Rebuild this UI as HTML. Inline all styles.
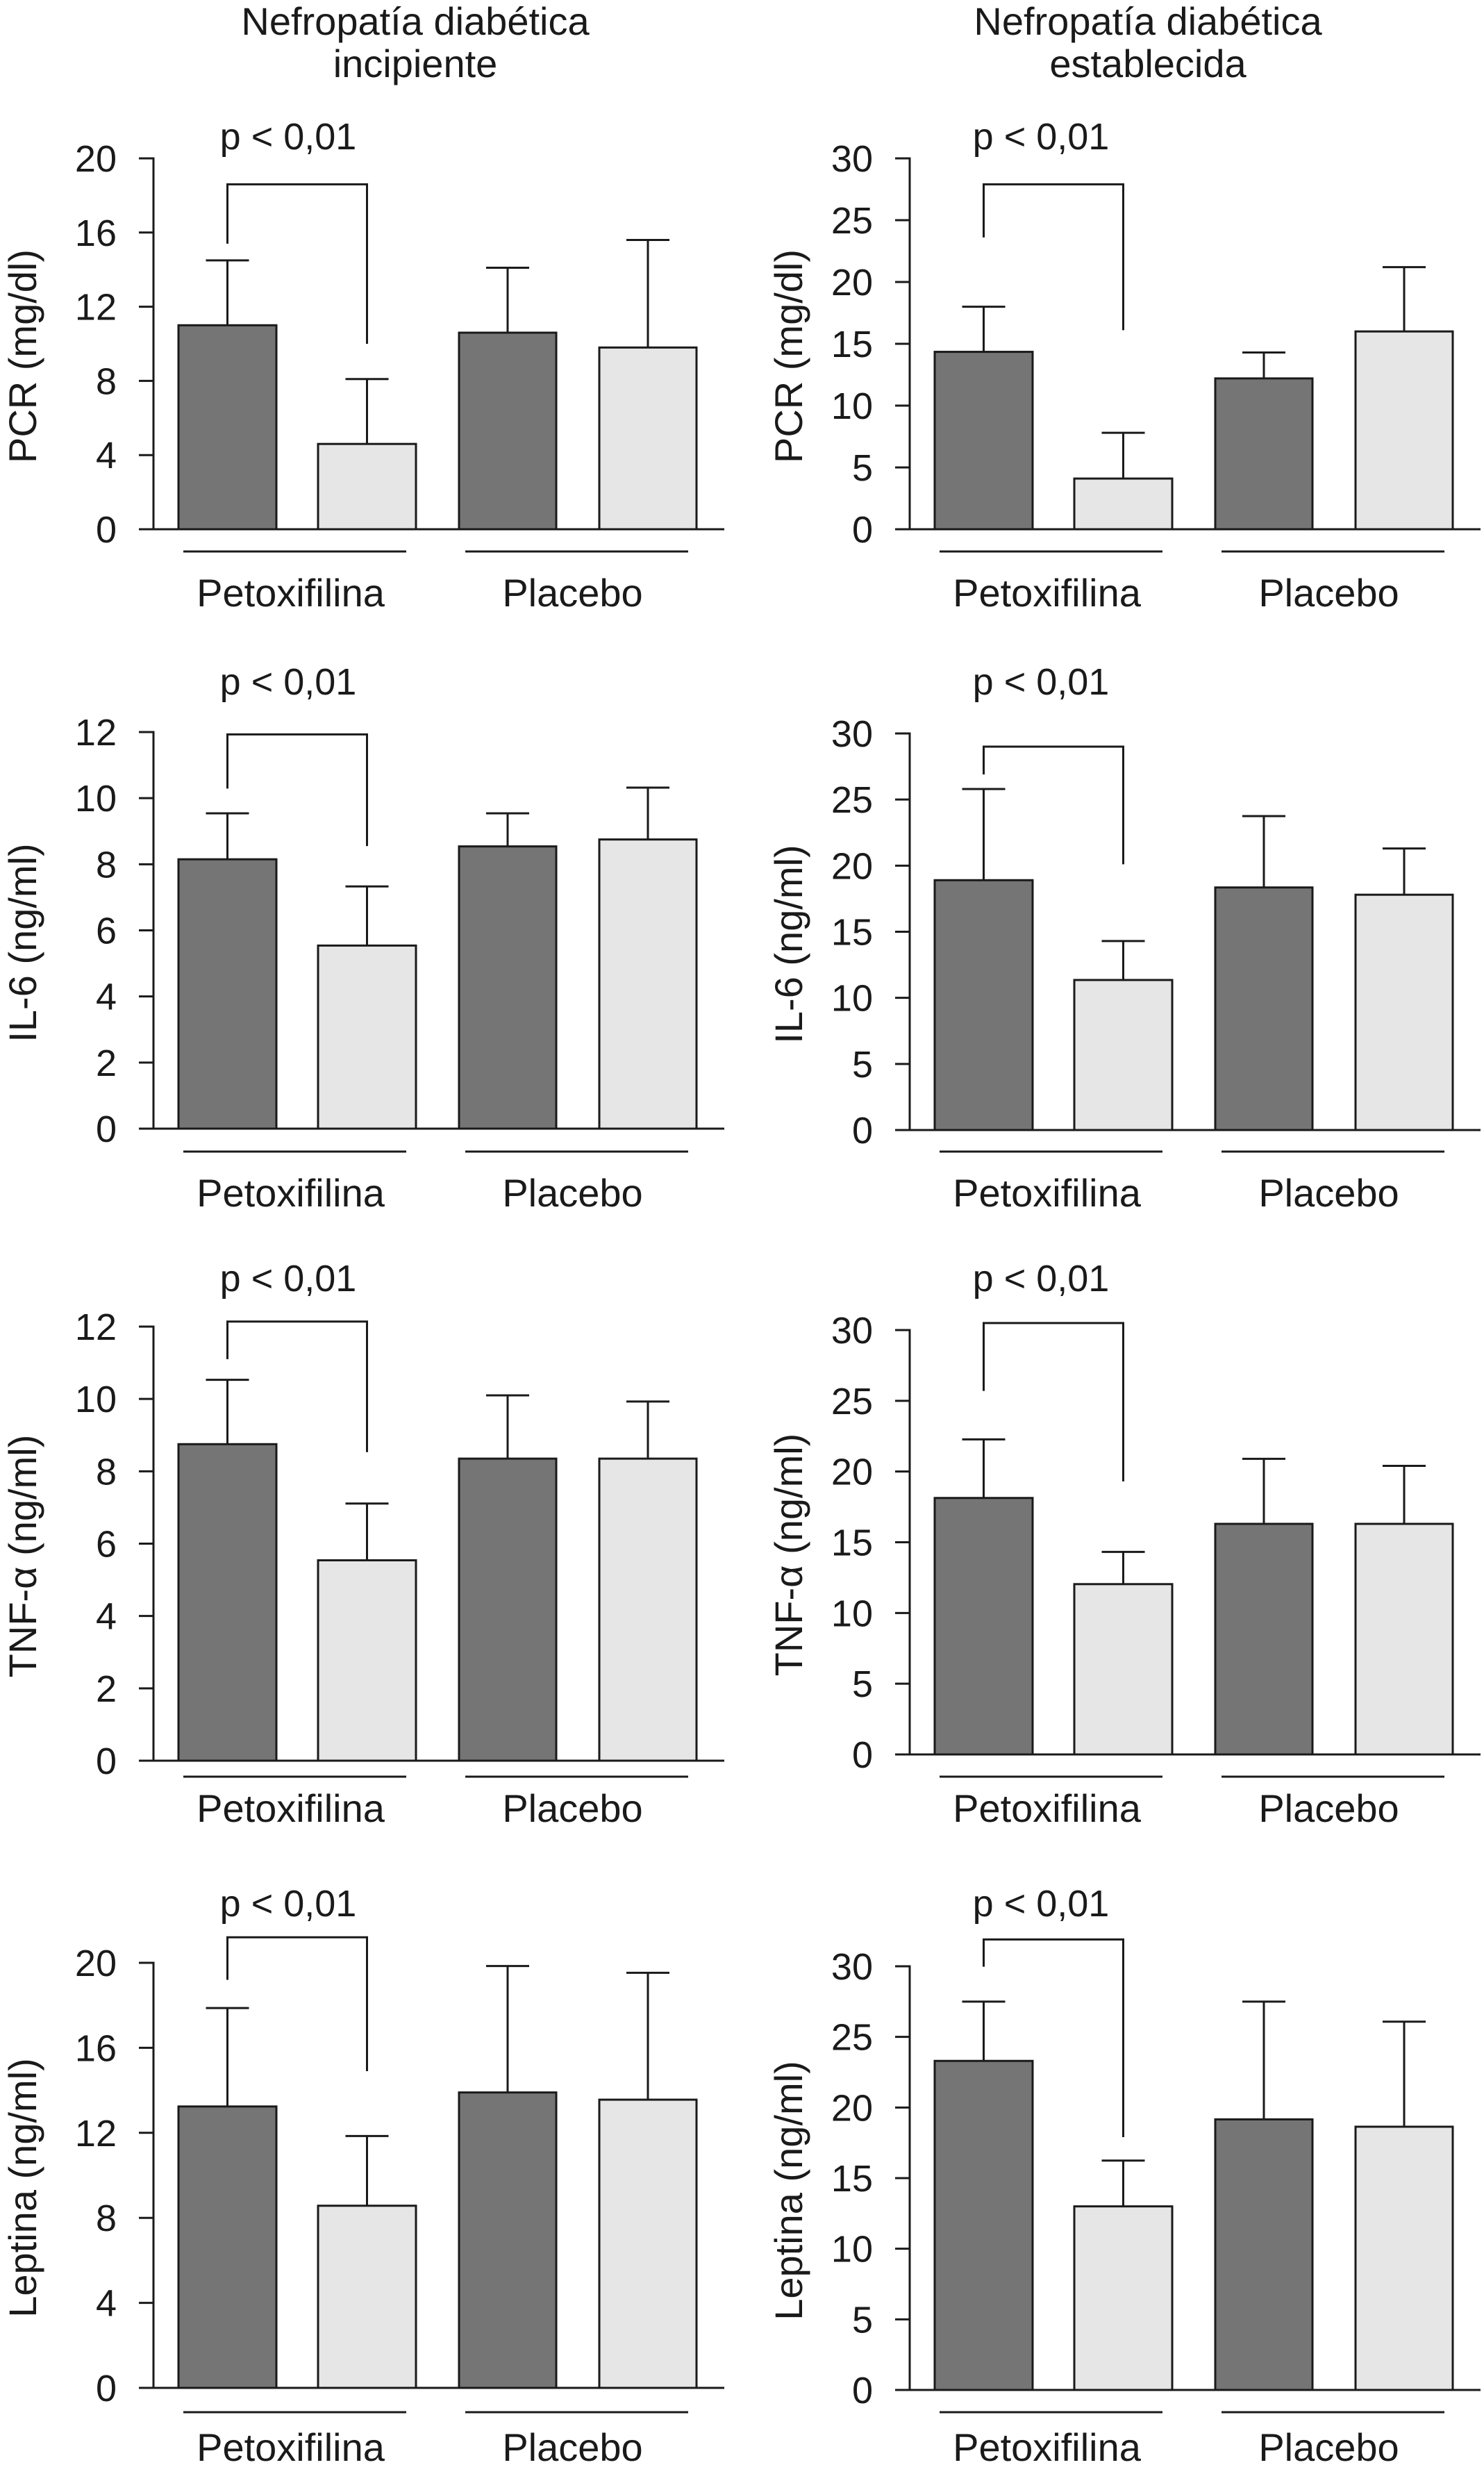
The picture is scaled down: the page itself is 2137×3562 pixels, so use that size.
<!DOCTYPE html>
<html><head><meta charset="utf-8">
<style>
html,body{margin:0;padding:0;background:#fff;}
svg{display:block;}
text{font-family:"Liberation Sans",Arial,sans-serif;fill:#1a1a1a;}
</style></head>
<body>
<svg id="fig" width="2137" height="3562" viewBox="0 0 2137 3562" xmlns="http://www.w3.org/2000/svg">
<text x="598" y="50" font-size="56" text-anchor="middle">Nefropatía diabética</text>
<text x="598" y="111" font-size="56" text-anchor="middle">incipiente</text>
<text x="1653" y="50" font-size="56" text-anchor="middle">Nefropatía diabética</text>
<text x="1653" y="111" font-size="56" text-anchor="middle">establecida</text>
</svg>
<script>
const panelTitles = ['PCR (mg/dl)','PCR (mg/dl)','IL-6 (ng/ml)','IL-6 (ng/ml)','TNF-\u03b1 (ng/ml)','TNF-\u03b1 (ng/ml)','Leptina (ng/ml)','Leptina (ng/ml)'];
const panelNames = ['pcr-incipiente','pcr-establecida','il6-incipiente','il6-establecida','tnf-incipiente','tnf-establecida','leptina-incipiente','leptina-establecida'];
const groups = ['Petoxifilina','Placebo'];
const yMax = [20,30,12,30,12,30,20,30];
const tickStep = [4,5,2,5,2,5,4,5];
const means = [
 [11.0,4.6,10.6,9.8],
 [14.35,4.1,12.2,16.0],
 [8.15,5.54,8.54,8.75],
 [18.9,11.35,18.35,17.8],
 [8.75,5.54,8.35,8.35],
 [18.13,12.04,16.3,16.3],
 [13.24,8.57,13.9,13.56],
 [23.3,13.0,19.16,18.64]
];
const errTops = [
 [14.5,8.1,14.1,15.6],
 [18.0,7.8,14.3,21.2],
 [9.54,7.33,9.54,10.32],
 [25.8,14.3,23.75,21.3],
 [10.53,7.11,10.1,9.93],
 [22.27,14.32,20.9,20.4],
 [17.87,11.85,19.85,19.53],
 [27.5,16.24,27.5,26.08]
];
const bracketTop = [18.6,27.9,11.93,29.0,12.14,30.5,21.2,31.9];
const bracketLeftEnd = [15.4,23.6,10.29,26.9,11.1,25.7,19.2,29.97];
const bracketRightEnd = [10.0,16.1,8.55,20.1,8.53,19.3,14.9,17.9];
const pLabel = 'p < 0,01';

// layout
const colAxisX = [221,1310];
const rowTop = [[228,228],[1054,1056],[1910,1915],[2826,2831]];
const rowZero = [[762,762],[1625,1627],[2535,2526],[3438,3441]];
const groupLineY = [794,1658,2558,3473];
const labelBase = [873,1737,2623,3543];
const pBase = [215,1000,1859,2759];
const barOff = [[36,177],[237,378],[440,580],[642,782]];
const NS='http://www.w3.org/2000/svg';
const svg=document.getElementById('fig');
function mk(tag,attrs,parent){const e=document.createElementNS(NS,tag);for(const k in attrs)e.setAttribute(k,attrs[k]);(parent||svg).appendChild(e);return e;}

for(let p=0;p<8;p++){
  const row=Math.floor(p/2), col=p%2;
  const ax=colAxisX[col], top=rowTop[row][col], zero=rowZero[row][col];
  const y=v=>zero-(v/yMax[p])*(zero-top);
  const g=mk('g',{});
  
  
  // bars
  for(let i=0;i<4;i++){
    const x0=ax+barOff[i][0], x1=ax+barOff[i][1], cx=(x0+x1)/2;
    const eb=mk('line',{x1:cx,x2:cx,y1:y(means[p][i]),y2:y(errTops[p][i]),stroke:'#1a1a1a','stroke-width':3},g);
    
    
    const cap=mk('line',{x1:cx-31,x2:cx+31,y1:y(errTops[p][i]),y2:y(errTops[p][i]),stroke:'#1a1a1a','stroke-width':3},g);
    
    
    const r=mk('rect',{x:x0,y:y(means[p][i]),width:x1-x0,height:zero-y(means[p][i]),fill:(i%2===0)?'#757575':'#e6e6e6',stroke:'#1a1a1a','stroke-width':3},g);
    
    
  }
  // axes
  const ya=mk('line',{x1:ax,x2:ax,y1:top-1.5,y2:zero,stroke:'#1a1a1a','stroke-width':3},g);
  
  
  const xa=mk('line',{x1:ax-1.5,x2:ax+822,y1:zero,y2:zero,stroke:'#1a1a1a','stroke-width':3},g);
  
  
  for(let v=0;v<=yMax[p];v+=tickStep[p]){
    const t=mk('line',{x1:ax-21,x2:ax,y1:y(v),y2:y(v),stroke:'#1a1a1a','stroke-width':3},g);
    
    
    const tl=mk('text',{x:ax-53,y:y(v)+19,'font-size':54,'text-anchor':'end'},g);
    tl.textContent=String(v);
    
    
  }
  // y title
  const cy=(top+zero)/2+18, tx=col===0?52:1155;
  const yt=mk('text',{x:tx,y:cy,'font-size':56,'text-anchor':'middle',transform:'rotate(-90 '+tx+' '+cy+')'},g);
  yt.textContent=panelTitles[p];
  
  
  // group lines and labels
  for(let k=0;k<2;k++){
    const gx0=ax+(k===0?43:449), gx1=ax+(k===0?364:770);
    const gl=mk('line',{x1:gx0,x2:gx1,y1:groupLineY[row],y2:groupLineY[row],stroke:'#1a1a1a','stroke-width':3},g);
    
    
    const lbl=mk('text',{x:(gx0+gx1)/2-6,y:labelBase[row],'font-size':56,'text-anchor':'middle'},g);
    lbl.textContent=groups[k];
    
    
  }
  // significance bracket
  const bl=ax+(barOff[0][0]+barOff[0][1])/2, br=ax+(barOff[1][0]+barOff[1][1])/2;
  const bk=mk('polyline',{points:bl+','+y(bracketLeftEnd[p])+' '+bl+','+y(bracketTop[p])+' '+br+','+y(bracketTop[p])+' '+br+','+y(bracketRightEnd[p]),fill:'none',stroke:'#1a1a1a','stroke-width':3},g);
  
  
  const pt=mk('text',{x:ax+(col===0?194:189),y:pBase[row],'font-size':54,'text-anchor':'middle'},g);
  pt.textContent=pLabel;
  
  
}
</script>
</body></html>
